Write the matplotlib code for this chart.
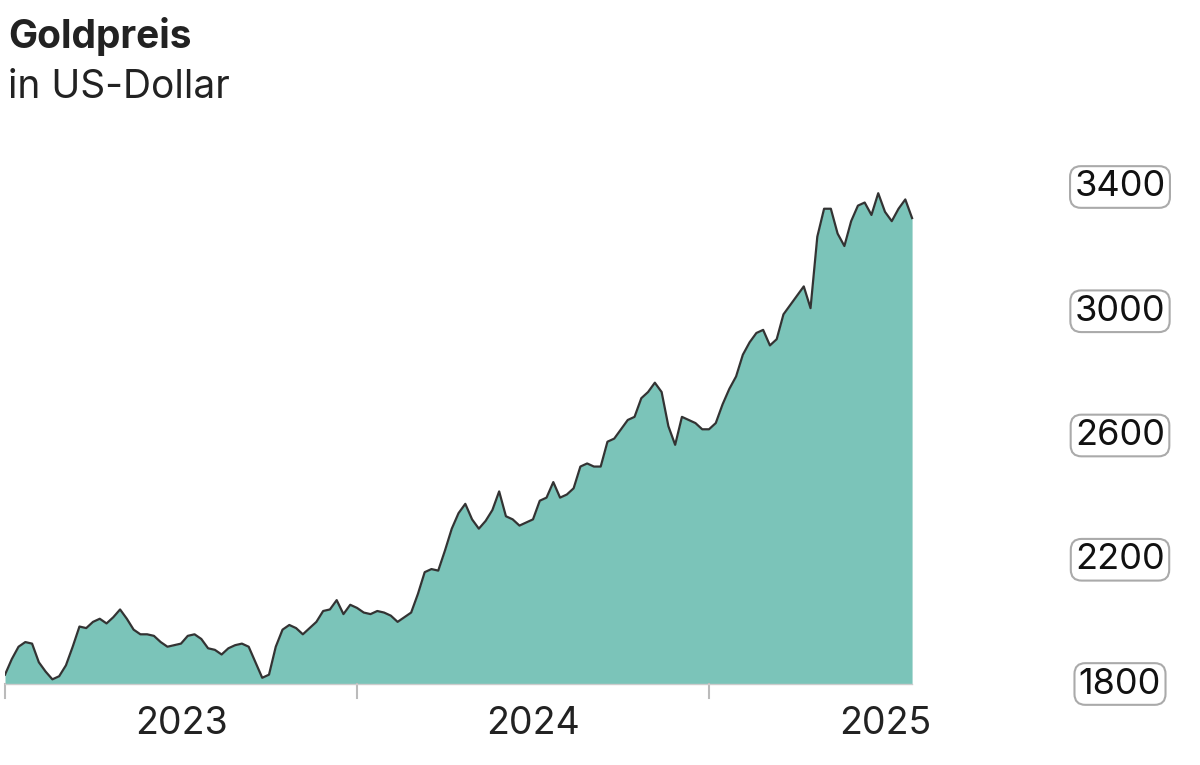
import numpy as np
import matplotlib.pyplot as plt

# weekly gold price (USD), Jan 2023 - Jul 2025
prices_2023 = [1830, 1880, 1920, 1935, 1930, 1870, 1840, 1815, 1825, 1860, 1920, 1985, 1980,
               2000, 2010, 1995, 2015, 2040, 2010, 1975, 1960, 1960, 1955, 1935, 1920, 1925,
               1930, 1955, 1960, 1945, 1915, 1910, 1895, 1915, 1925, 1930, 1920, 1870, 1820,
               1830, 1920, 1975, 1990, 1980, 1960, 1980, 2000, 2035, 2040, 2070, 2025, 2055]
prices_2024 = [2045, 2030, 2025, 2035, 2030, 2020, 2000, 2015, 2030, 2090, 2160, 2170, 2165,
               2230, 2300, 2350, 2380, 2330, 2300, 2325, 2360, 2420, 2340, 2330, 2310, 2320,
               2330, 2390, 2400, 2450, 2400, 2410, 2430, 2500, 2510, 2500, 2500, 2580, 2590,
               2620, 2650, 2660, 2720, 2740, 2770, 2740, 2630, 2570, 2660, 2650, 2640, 2620]
prices_2025 = [2620, 2640, 2700, 2750, 2790, 2860, 2900, 2930, 2940, 2890, 2910, 2990, 3020,
               3050, 3080, 3010, 3240, 3330, 3330, 3250, 3210, 3290, 3340, 3350, 3310, 3380,
               3320, 3290, 3330, 3360, 3300]
years = [2023, 2024, 2025]
y_labels = [1800, 2200, 2600, 3000, 3400]
grid_levels = [2000, 2200, 2400, 2600, 2800, 3000, 3200, 3400]

prices = np.array(prices_2023 + prices_2024 + prices_2025)
x = 2023 + np.arange(len(prices)) / 52.0

plt.rcParams['font.family'] = ['Inter', 'DejaVu Sans']
fig = plt.figure(figsize=(12, 7.65), dpi=100)
ax = fig.add_axes([5 / 1200, 1 - 684 / 765, 1050 / 1200, 497 / 765])
ax.set_xlim(2023, 2023 + 1050 / 352)
ax.set_ylim(1800, 3400)
ax.axis('off')

for g in grid_levels:
    ax.plot([2023, 2023 + 1050 / 352], [g, g], color='#999999', lw=2.2,
            linestyle=(0, (0, 13)), dash_capstyle='round', zorder=1)

ax.fill_between(x, 1800, prices, color='#7bc4b9', lw=0, zorder=2)
ax.plot(x, prices, color='#333333', lw=1.6, zorder=3)

ax.plot([2023, x[-1]], [1800, 1800], color='#cccccc', lw=1, clip_on=False, zorder=4)
for yr in years:
    ax.plot([yr, yr], [1800, 1800 - 14 / 0.3106], color='#bbbbbb', lw=1.5, clip_on=False)
    ax.text(yr + 0.5, 1800 - 40 / 0.3106, str(yr), ha='center', va='center',
            fontsize=27, color='#222222')

for v in y_labels:
    ax.text(2023 + 1115 / 352, v, str(v), ha='center', va='center', fontsize=26,
            color='#111111',
            bbox=dict(boxstyle='round,pad=0.12,rounding_size=0.3', fc='white',
                      ec='#aaaaaa', lw=1.5))

fig.text(8 / 1200, 1 - 37 / 765, 'Goldpreis', fontsize=28, fontweight='bold',
         color='#222222', va='center')
fig.text(8 / 1200, 1 - 87 / 765, 'in US-Dollar', fontsize=28, color='#222222', va='center')

fig.savefig('out.png', dpi=100)
